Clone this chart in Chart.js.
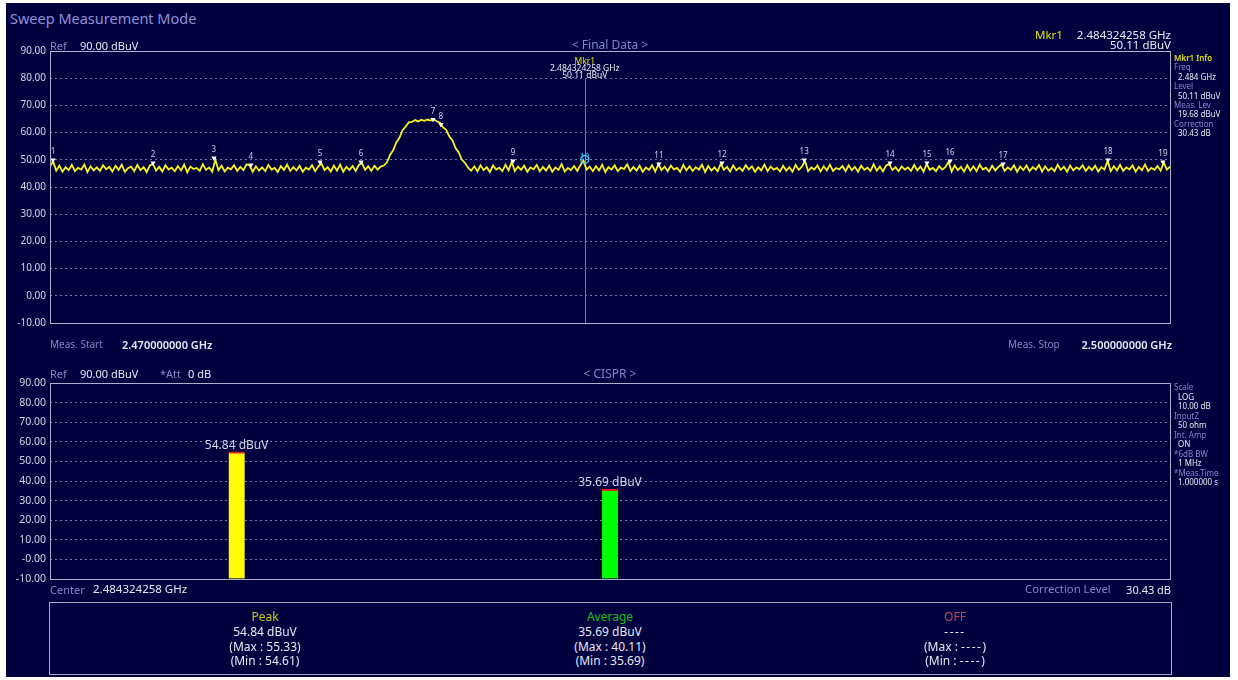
<!DOCTYPE html>
<html>
<head>
<meta charset="utf-8">
<script src="https://cdn.jsdelivr.net/npm/chart.js@4/dist/chart.umd.min.js"></script>
<style>
  html, body { margin: 0; padding: 0; background: #fff; }
  body { width: 1238px; height: 680px; position: relative; overflow: hidden;
         font-family: "Noto Sans", "DejaVu Sans", sans-serif; }
  #panel { position: absolute; left: 6px; top: 3px; width: 1224px; height: 674px; background: #00003f; }
  .t { position: absolute; white-space: nowrap; line-height: 1; transform: translateY(-50%); }
  .t .dash { letter-spacing: 1.5px; }
  .wrap { position: absolute; left: 0; }
  #table { position: absolute; left: 49px; top: 602px; width: 1121px; height: 71px;
           border: 1px solid #a8a8c4; }
</style>
</head>
<body>
<div id="panel"></div>
<div class="wrap" style="top:30px"><canvas id="sweep" width="1238" height="310"></canvas></div>
<div class="wrap" style="top:360px"><canvas id="cispr" width="1238" height="235"></canvas></div>
<div id="table"></div>
<script>
// ── Sweep settings ───────────────────────────────────────────────
const sweepStart = 2.470;   // GHz
const sweepStop  = 2.500;   // GHz

// Final data trace, one level (dBuV) per sweep point
const traceLevels = [
  47.6, 49.4, 46.0, 47.9, 45.6, 47.3, 46.2, 48.1, 45.8, 47.0, 46.4, 48.3, 45.5, 47.6, 46.1, 47.2, 45.9, 48.0, 46.5, 47.4,
  45.7, 47.8, 46.3, 48.2, 45.6, 46.9, 47.5, 45.8, 48.1, 46.2, 47.3, 45.5, 47.9, 48.5, 46.0, 47.4, 45.7, 48.0, 46.4, 47.1,
  45.8, 47.7, 46.1, 48.2, 45.4, 47.5, 46.6, 47.0, 45.9, 48.4, 46.3, 47.2, 45.6, 50.1, 46.2, 47.8, 45.7, 47.1, 46.5, 48.0,
  45.9, 47.4, 46.2, 48.3, 47.9, 45.6, 47.6, 46.0, 47.2, 45.8, 48.1, 46.4, 47.0, 45.5, 47.7, 46.3, 48.2, 45.9, 47.3, 46.1,
  47.8, 45.6, 47.1, 46.4, 48.0, 45.8, 47.5, 48.7, 46.2, 47.3, 45.7, 47.9, 46.0, 48.2, 45.6, 47.4, 46.3, 47.7, 45.9, 48.1,
  48.8, 46.3, 47.6, 45.9, 47.8, 46.4, 47.5,
  47.9, 49.1, 51.8, 53.5, 56.4, 58.1, 60.9, 62.2, 63.8, 63.9, 64.6, 64.1, 64.7, 64.3, 64.8, 64.4, 64.9, 64.2, 63.6, 61.9,
  61.0, 58.6, 57.1, 54.3, 52.7, 50.1, 48.9, 47.1,
  46.0, 47.6, 45.7, 48.0, 46.2, 47.3, 45.5, 47.9, 46.4, 47.1, 45.8, 48.2, 46.1, 49.2, 45.9, 47.5, 46.3, 47.8, 45.6, 47.2,
  46.5, 48.1, 45.8, 47.4, 46.0, 47.9, 45.6, 47.2, 46.3, 48.4, 45.7, 47.0, 46.2, 47.7, 45.9, 48.0, 49.7, 46.4, 47.5, 45.8,
  47.6, 46.1, 48.2, 45.5, 47.3, 46.4, 47.9, 45.8, 47.1, 46.6, 48.3, 45.9, 47.4, 46.0, 47.8, 45.6, 47.2, 46.3, 48.0, 45.7,
  48.4, 46.2, 47.5, 45.8, 47.9, 46.5, 47.0, 45.6, 48.1, 46.1, 47.6, 45.9, 47.3, 46.4, 48.2, 45.5, 47.7, 46.0, 47.2, 45.8,
  48.6, 46.3, 47.4, 45.7, 47.9, 46.2, 47.1, 45.9, 48.0, 46.5, 47.6, 45.6, 47.3, 46.1, 48.3, 45.8, 47.5, 46.4, 47.0, 45.7,
  47.8, 46.0, 47.3, 45.6, 48.1, 46.3, 47.5, 49.6, 45.8, 47.2, 46.4, 47.9, 45.7, 47.6, 46.1, 48.2, 45.9, 47.0, 46.5, 47.7,
  45.8, 48.0, 46.2, 47.4, 45.6, 47.8, 46.3, 47.1, 45.9, 48.3, 46.0, 47.5, 45.7, 47.9, 48.4, 46.2, 47.3, 45.8, 47.6, 46.4,
  47.2, 45.9, 48.1, 46.1, 47.5, 45.6, 48.5, 46.3, 47.0, 45.8, 47.7, 46.4, 47.3, 49.3, 45.7, 47.9, 46.2, 47.4, 45.6, 48.0,
  46.0, 47.6, 45.8, 48.2, 46.4, 47.1, 45.7, 47.8, 46.1, 47.4, 48.3, 45.9, 47.2, 46.3, 48.0, 45.6, 47.5, 46.2, 47.9, 45.8,
  47.3, 46.4, 48.1, 45.7, 47.6, 46.0, 47.0, 45.8, 48.2, 46.3, 47.5, 45.6, 47.9, 46.1, 47.2, 46.5, 48.0, 45.9, 47.4, 46.2,
  47.8, 45.7, 47.3, 46.4, 49.6, 45.8, 47.6, 46.1, 48.1, 45.9, 47.2, 46.5, 47.9, 45.6, 47.4, 46.2, 48.3, 45.8, 47.0, 46.3,
  47.7, 46.0, 49.0, 46.4, 47.5
];

// Peak markers
const markerNumbers = [1, 2, 3, 4, 5, 6, 7, 8, 9, 10, 11, 12, 13, 14, 15, 16, 17, 18, 19];
const markerFreqs = [2.47008, 2.47276, 2.47439, 2.47538, 2.47723, 2.47833, 2.48026, 2.48047, 2.48240, 2.484324258,
                     2.48631, 2.48800, 2.49020, 2.49250, 2.49349, 2.49411, 2.49553, 2.49834, 2.49981];
const markerLevels = [49.9, 48.8, 50.7, 48.1, 49.2, 49.2, 64.8, 63.0, 49.6, 50.11,
                      48.5, 48.8, 49.9, 48.8, 48.8, 49.6, 48.5, 49.9, 49.2];
const mkr1Number = 10;
const mkr1Freq = 2.484324258;
const mkr1Level = 50.11;
const mkr1MeasLevel = 19.68;
const correction = 30.43;

const topTickLabels = ['-10.00', '0.00', '10.00', '20.00', '30.00', '40.00', '50.00', '60.00', '70.00', '80.00', '90.00'];
const bottomTickLabels = ['-10.00', '-0.00', '10.00', '20.00', '30.00', '40.00', '50.00', '60.00', '70.00', '80.00', '90.00'];

// CISPR detectors
const detectors = ['Peak', 'Average', 'OFF'];
const detectorLevels = [54.84, 35.69, null];
const detectorMax = [55.33, 40.11, null];
const detectorMin = [54.61, 35.69, null];
const detectorColors = ['#ffff00', '#00ff00', '#ff3030'];
const detectorTitleColors = ['#c8c818', '#12c012', '#c04a5c'];

// ── Colours ──────────────────────────────────────────────────────
const FONT = '"Noto Sans", "DejaVu Sans", sans-serif';
const LAV = '#8484cc';
const WHITE = '#e8e8f2';
const TICK = '#d4d4e4';
const GRID = 'rgba(160,160,200,0.75)';
const FRAME = '#b0b0cc';
const YELLOW = '#e4e000';

function txt(x, y, s, color, size, align = 'left', weight = 400) {
  const d = document.createElement('div');
  d.className = 't';
  d.textContent = s;
  d.style.color = color;
  d.style.fontSize = size + 'px';
  d.style.fontWeight = weight;
  d.style.top = y + 'px';
  if (align === 'left') d.style.left = x + 'px';
  else if (align === 'right') d.style.right = (1238 - x) + 'px';
  else { d.style.left = x + 'px'; d.style.transform = 'translate(-50%,-50%)'; }
  document.body.appendChild(d);
  return d;
}

const fmtFreq = f => f.toFixed(9) + ' GHz';
const fmtLev = v => v.toFixed(2) + ' dBuV';

// ── Header / side texts ──────────────────────────────────────────
txt(10, 18, 'Sweep Measurement Mode', '#9090d8', 14.5);
txt(50, 45, 'Ref', LAV, 11);
txt(80, 45, '90.00 dBuV', WHITE, 11);
txt(610, 45, '< Final Data >', LAV, 12, 'center');
txt(1035, 35, 'Mkr1', YELLOW, 11.5);
txt(1171, 35, fmtFreq(mkr1Freq), WHITE, 11.5, 'right');
txt(1171, 45, fmtLev(mkr1Level), WHITE, 11.5, 'right');

const infoTop = [
  ['Mkr1 Info', YELLOW, 1174], ['Freq', LAV, 1174], [mkr1Freq.toFixed(3) + ' GHz', WHITE, 1178],
  ['Level', LAV, 1174], [fmtLev(mkr1Level), WHITE, 1178], ['Meas. Lev', LAV, 1174],
  [fmtLev(mkr1MeasLevel), WHITE, 1178], ['Correction', LAV, 1174], [correction.toFixed(2) + ' dB', WHITE, 1178],
];
infoTop.forEach(([s, c, x], i) => txt(x, 58 + i * 9.4, s, c, 8, 'left', i === 0 ? 600 : 400));

txt(50, 344, 'Meas. Start', LAV, 10);
txt(122, 344, fmtFreq(sweepStart), WHITE, 11, 'left', 600);
txt(1008, 344, 'Meas. Stop', LAV, 10);
txt(1172, 344, fmtFreq(sweepStop), WHITE, 11, 'right', 600);

txt(50, 373, 'Ref', LAV, 11);
txt(80, 373, '90.00 dBuV', WHITE, 11);
txt(160, 373, '*Att', LAV, 11);
txt(188, 373, '0 dB', WHITE, 11);
txt(610, 374, '< CISPR >', LAV, 12, 'center');

const infoBottom = [
  ['Scale', LAV, 1174], ['LOG', WHITE, 1178], ['10.00 dB', WHITE, 1178], ['InputZ', LAV, 1174],
  ['50 ohm', WHITE, 1178], ['Int. Amp', LAV, 1174], ['ON', WHITE, 1178], ['*6dB BW', LAV, 1174],
  ['1 MHz', WHITE, 1178], ['*Meas.Time', LAV, 1174], ['1.000000 s', WHITE, 1178],
];
infoBottom.forEach(([s, c, x], i) => txt(x, 387 + i * 9.5, s, c, 8));

txt(50, 589, 'Center', LAV, 11);
txt(93, 589, fmtFreq(mkr1Freq), WHITE, 11.5);
txt(1025, 589, 'Correction Level', LAV, 11.3);
txt(1171, 589, correction.toFixed(2) + ' dB', WHITE, 11, 'right');

// detector summary table; empty readings shown as a dash run
const colX = [265, 610, 955];
function cell(x, y, pre, v, post) {
  const d = txt(x, y, '', WHITE, 12, 'center');
  d.append(pre);
  if (v == null) {
    const s = document.createElement('span');
    s.className = 'dash';
    s.textContent = '----';
    d.append(s);
  } else {
    d.append(v);
  }
  d.append(post);
}
detectors.forEach((name, i) => {
  txt(colX[i], 617, name, detectorTitleColors[i], 12, 'center');
  cell(colX[i], 632, '', detectorLevels[i] == null ? null : fmtLev(detectorLevels[i]), '');
  cell(colX[i], 647, '(Max : ', detectorMax[i] == null ? null : detectorMax[i].toFixed(2), ')');
  cell(colX[i], 661, '(Min : ', detectorMin[i] == null ? null : detectorMin[i].toFixed(2), ')');
});

// ── Sweep chart ──────────────────────────────────────────────────
const nPts = traceLevels.length;
const tracePoints = traceLevels.map((v, i) => ({
  x: sweepStart + i * (sweepStop - sweepStart) / (nPts - 1), y: v,
}));
const markerPoints = markerFreqs.map((f, i) => ({ x: f, y: markerLevels[i] }));
const isMkr1 = i => markerNumbers[i] === mkr1Number;

const frame = {
  id: 'frame',
  afterDraw(chart) {
    const { ctx, chartArea: A } = chart;
    ctx.save();
    ctx.strokeStyle = FRAME;
    ctx.lineWidth = 1;
    ctx.strokeRect(Math.round(A.left) + 0.5, Math.round(A.top) + 0.5,
                   Math.round(A.right - A.left), Math.round(A.bottom - A.top));
    ctx.restore();
  },
};

const sweepOverlay = {
  id: 'sweepOverlay',
  beforeDatasetsDraw(chart) {
    const { ctx, chartArea: A, scales: { x } } = chart;
    const mx = Math.round(x.getPixelForValue(mkr1Freq)) + 0.5;
    ctx.save();
    ctx.strokeStyle = '#1e9cc4';
    ctx.lineWidth = 1;
    ctx.beginPath();
    ctx.moveTo(mx, A.top + 28);
    ctx.lineTo(mx, A.bottom);
    ctx.stroke();
    ctx.restore();
  },
  afterDatasetsDraw(chart) {
    const { ctx, chartArea: A, scales: { x, y } } = chart;
    ctx.save();
    ctx.font = `8px ${FONT}`;
    ctx.textAlign = 'center';
    ctx.textBaseline = 'bottom';
    markerPoints.forEach((p, i) => {
      const px = x.getPixelForValue(p.x);
      const py = y.getPixelForValue(p.y);
      if (isMkr1(i)) {
        ctx.fillStyle = '#3cc8f0';
        ctx.fillText(String(markerNumbers[i]), px, py + 2);
      } else {
        ctx.fillStyle = '#d0d0ec';
        ctx.fillText(String(markerNumbers[i]), px, py - 4);
      }
    });
    // Mkr1 readout above the marker line
    const mx = x.getPixelForValue(mkr1Freq);
    ctx.font = `8.5px ${FONT}`;
    ctx.textBaseline = 'middle';
    ctx.fillStyle = YELLOW;
    ctx.fillText('Mkr1', mx, A.top + 11);
    ctx.fillStyle = WHITE;
    ctx.fillText(fmtFreq(mkr1Freq), mx, A.top + 18);
    ctx.fillText(fmtLev(mkr1Level), mx, A.top + 25);
    ctx.restore();
  },
};

new Chart(document.getElementById('sweep'), {
  type: 'line',
  data: {
    datasets: [
      {
        label: 'Markers',
        data: markerPoints,
        showLine: false,
        order: 0,
        pointStyle: ctx => isMkr1(ctx.dataIndex) ? 'circle' : 'triangle',
        rotation: ctx => isMkr1(ctx.dataIndex) ? 0 : 180,
        pointRadius: ctx => isMkr1(ctx.dataIndex) ? 4 : 3,
        pointBorderWidth: ctx => isMkr1(ctx.dataIndex) ? 1.5 : 0,
        pointBorderColor: ctx => isMkr1(ctx.dataIndex) ? '#3cc8f0' : '#ffffff',
        pointBackgroundColor: ctx => isMkr1(ctx.dataIndex) ? 'rgba(0,0,0,0)' : '#ffffff',
      },
      {
        label: 'Final Data',
        data: tracePoints,
        order: 1,
        borderColor: '#f8f41a',
        borderWidth: 1.8,
        pointRadius: 0,
        tension: 0,
      },
    ],
  },
  options: {
    responsive: false,
    animation: false,
    layout: { padding: { top: 21, right: 68, bottom: 17, left: 0 } },
    plugins: { legend: { display: false }, tooltip: { enabled: false } },
    scales: {
      x: { type: 'linear', min: sweepStart, max: sweepStop, display: false },
      y: {
        min: -10, max: 90,
        afterFit(s) { s.width = 50; },
        ticks: {
          stepSize: 10, autoSkip: false, padding: 4, color: TICK,
          font: { size: 10, family: FONT },
          callback: v => topTickLabels[Math.round((v + 10) / 10)],
        },
        grid: { color: GRID, drawTicks: false, lineWidth: 1 },
        border: { display: false, dash: [2, 3] },
      },
    },
  },
  plugins: [sweepOverlay, frame],
});

// ── CISPR detector chart ─────────────────────────────────────────
const barLabels = {
  id: 'barLabels',
  afterDatasetsDraw(chart) {
    const { ctx } = chart;
    const meta = chart.getDatasetMeta(0);
    ctx.save();
    ctx.font = `12px ${FONT}`;
    ctx.fillStyle = '#d4d4e6';
    ctx.textAlign = 'center';
    ctx.textBaseline = 'alphabetic';
    meta.data.forEach((bar, i) => {
      const v = detectorLevels[i];
      if (v == null) return;
      ctx.fillText(fmtLev(v), bar.x, bar.y - 3);
    });
    ctx.restore();
  },
};

new Chart(document.getElementById('cispr'), {
  type: 'bar',
  data: {
    labels: detectors,
    datasets: [{
      label: 'CISPR',
      data: detectorLevels,
      base: -10,
      backgroundColor: detectorColors,
      borderColor: '#e02828',
      borderWidth: { top: 2, right: 0, bottom: 0, left: 0 },
      borderSkipped: false,
      barThickness: 16,
    }],
  },
  options: {
    responsive: false,
    animation: false,
    layout: { padding: { top: 23, right: 68, bottom: 16, left: 0 } },
    plugins: { legend: { display: false }, tooltip: { enabled: false } },
    scales: {
      x: { display: false },
      y: {
        min: -10, max: 90,
        afterFit(s) { s.width = 50; },
        ticks: {
          stepSize: 10, autoSkip: false, padding: 4, color: TICK,
          font: { size: 10.5, family: FONT },
          callback: v => bottomTickLabels[Math.round((v + 10) / 10)],
        },
        grid: { color: GRID, drawTicks: false, lineWidth: 1 },
        border: { display: false, dash: [2, 3] },
      },
    },
  },
  plugins: [barLabels, frame],
});
</script>
</body>
</html>
